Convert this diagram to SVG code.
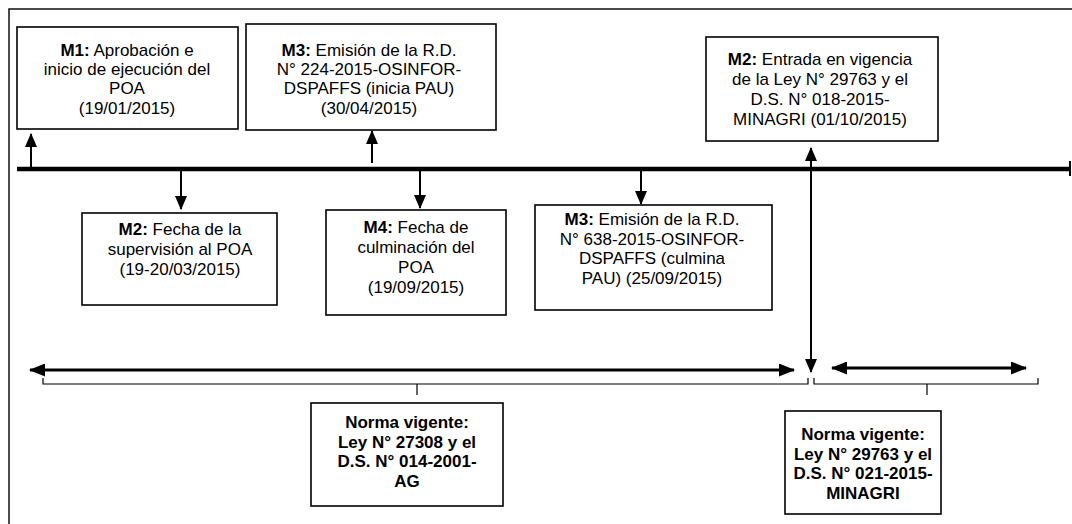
<svg xmlns="http://www.w3.org/2000/svg" width="1072" height="524" viewBox="0 0 1072 524">
<style>
.box{fill:#fff;stroke:#000;stroke-width:1.6}
.t{font-family:"Liberation Sans",Arial,sans-serif;font-size:17px;fill:#000;text-anchor:middle}
.b{font-weight:bold}
.ln{stroke:#000;stroke-width:2;fill:none}
.thin{stroke:#000;stroke-width:1.2;fill:none}
</style>
<defs>
<marker id="ah" markerUnits="userSpaceOnUse" markerWidth="14" markerHeight="12" refX="13" refY="6" orient="auto-start-reverse" viewBox="0 0 14 12">
<path d="M0,0 L14,6 L0,12 Z" fill="#000"/>
</marker>
<marker id="ahb" markerUnits="userSpaceOnUse" markerWidth="16" markerHeight="13" refX="15" refY="6.5" orient="auto-start-reverse" viewBox="0 0 16 13">
<path d="M0,0 L16,6.5 L0,13 Z" fill="#000"/>
</marker>
</defs>
<rect x="9" y="9" width="1100" height="560" fill="none" stroke="#000" stroke-width="1.4"/>
<g id="connectors">
<line x1="17" y1="169" x2="1070" y2="169" stroke="#000" stroke-width="4.5"/>
<line x1="1070" y1="161" x2="1070" y2="176" stroke="#000" stroke-width="2"/>
<line class="ln" x1="31" y1="168" x2="31" y2="134" marker-end="url(#ah)"/>
<line class="ln" x1="372" y1="163" x2="372" y2="131" marker-end="url(#ah)"/>
<line class="ln" x1="181" y1="170" x2="181" y2="209" marker-end="url(#ah)"/>
<line class="ln" x1="420" y1="170" x2="420" y2="208" marker-end="url(#ah)"/>
<line class="ln" x1="641" y1="170" x2="641" y2="204" marker-end="url(#ah)"/>
<line class="ln" x1="811" y1="148" x2="811" y2="372" marker-start="url(#ah)" marker-end="url(#ah)"/>
<line x1="30" y1="370" x2="794" y2="370" stroke="#000" stroke-width="3" marker-start="url(#ahb)" marker-end="url(#ahb)"/>
<line x1="832" y1="368" x2="1026" y2="368" stroke="#000" stroke-width="3" marker-start="url(#ahb)" marker-end="url(#ahb)"/>
<path class="thin" d="M43,378 V384 H808 V378 M417,384 V395"/>
<path class="thin" d="M814,378 V384 H1038 V378 M927,384 V395"/>
</g>
<g id="m1">
<rect class="box" x="17" y="27" width="221" height="102"/>
<text class="t" x="127" y="56"><tspan class="b">M1:</tspan> Aprobación e<tspan x="127" dy="19.2">inicio de ejecución del</tspan><tspan x="127" dy="19.2">POA</tspan><tspan x="127" dy="19.2">(19/01/2015)</tspan></text>
</g>
<g id="m3a">
<rect class="box" x="246" y="24" width="250" height="106"/>
<text class="t" x="369" y="56"><tspan class="b">M3:</tspan> Emisión de la R.D.<tspan x="369" dy="19.2">N° 224-2015-OSINFOR-</tspan><tspan x="369" dy="19.2">DSPAFFS (inicia PAU)</tspan><tspan x="369" dy="19.2">(30/04/2015)</tspan></text>
</g>
<g id="m2b">
<rect class="box" x="706" y="37" width="232" height="104"/>
<text class="t" x="820" y="65"><tspan class="b">M2:</tspan> Entrada en vigencia<tspan x="820" dy="20">de la Ley N° 29763 y el</tspan><tspan x="820" dy="20">D.S. N° 018-2015-</tspan><tspan x="820" dy="20">MINAGRI (01/10/2015)</tspan></text>
</g>
<g id="m2a">
<rect class="box" x="82" y="213" width="195" height="92"/>
<text class="t" x="180" y="235"><tspan class="b">M2:</tspan> Fecha de la<tspan x="180" dy="20">supervisión al POA</tspan><tspan x="180" dy="20">(19-20/03/2015)</tspan></text>
</g>
<g id="m4">
<rect class="box" x="326" y="210" width="180" height="105"/>
<text class="t" x="416" y="233"><tspan class="b">M4:</tspan> Fecha de<tspan x="416" dy="20">culminación del</tspan><tspan x="416" dy="20">POA</tspan><tspan x="416" dy="20">(19/09/2015)</tspan></text>
</g>
<g id="m3b">
<rect class="box" x="535" y="205" width="237" height="105"/>
<text class="t" x="652" y="225"><tspan class="b">M3:</tspan> Emisión de la R.D.<tspan x="652" dy="19.7">N° 638-2015-OSINFOR-</tspan><tspan x="652" dy="19.7">DSPAFFS (culmina</tspan><tspan x="652" dy="19.7">PAU) (25/09/2015)</tspan></text>
</g>
<g id="norma1">
<rect class="box" x="311" y="403" width="192" height="103"/>
<text class="t b" x="407" y="428">Norma vigente:<tspan x="407" dy="19.7">Ley N° 27308 y el</tspan><tspan x="407" dy="19.7">D.S. N° 014-2001-</tspan><tspan x="407" dy="19.7">AG</tspan></text>
</g>
<g id="norma2">
<rect class="box" x="785" y="411" width="156" height="103"/>
<text class="t b" x="863" y="440">Norma vigente:<tspan x="863" dy="19.5">Ley N° 29763 y el</tspan><tspan x="863" dy="19.5">D.S. N° 021-2015-</tspan><tspan x="863" dy="19.5">MINAGRI</tspan></text>
</g>
</svg>
